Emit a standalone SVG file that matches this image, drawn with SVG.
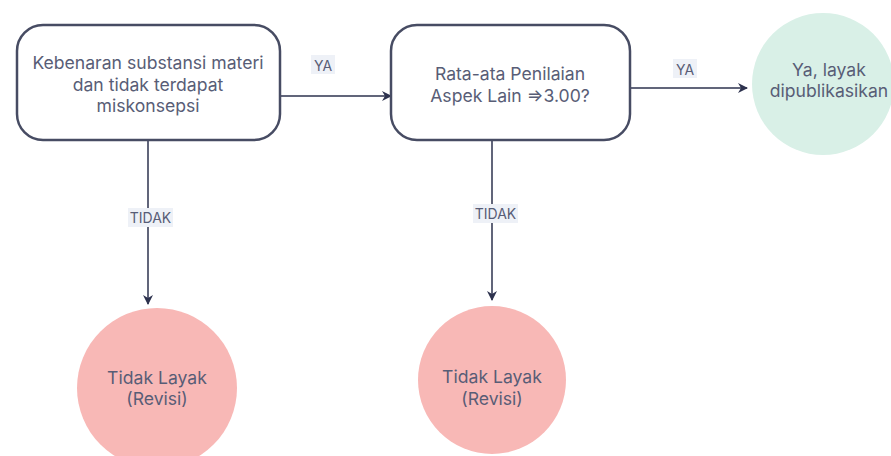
<svg xmlns="http://www.w3.org/2000/svg" width="891" height="456" viewBox="0 0 891 456">
  <defs>
    <style>
      .box { fill: #ffffff; stroke: #474c63; stroke-width: 2.5; }
      .txt { font-family: Inter, "Noto Sans", sans-serif; font-size: 17.6px; fill: #585d76; text-anchor: middle; dominant-baseline: central; }
      .lbl { font-family: Inter, "Noto Sans", sans-serif; font-size: 14px; fill: #585d76; text-anchor: middle; dominant-baseline: central; }
      .lblbg { fill: #eef1f7; }
      .edge { stroke: #2d324e; stroke-width: 1.5; fill: none; }
      .no { fill: #f8b8b6; }
      .yes { fill: #d9f0e7; }
    </style>
    <marker id="arrow" viewBox="0 0 10 10" refX="9" refY="5" markerWidth="10" markerHeight="10" markerUnits="userSpaceOnUse" orient="auto">
      <path d="M0,0 L10,5 L0,10 L3,5 Z" fill="#2d324e"/>
    </marker>
  </defs>

  <g id="connectors">
    <line class="edge" x1="281" y1="96" x2="391" y2="96" marker-end="url(#arrow)"/>
    <line class="edge" x1="631" y1="88" x2="747" y2="88" marker-end="url(#arrow)"/>
    <line class="edge" x1="148" y1="141" x2="148" y2="304" marker-end="url(#arrow)"/>
    <line class="edge" x1="492" y1="141" x2="492" y2="300" marker-end="url(#arrow)"/>
    <rect class="lblbg" x="311" y="55" width="24" height="19"/>
    <text class="lbl" x="323" y="65">YA</text>
    <rect class="lblbg" x="673" y="59" width="24" height="19"/>
    <text class="lbl" x="685" y="69">YA</text>
    <rect class="lblbg" x="128" y="208" width="45" height="19"/>
    <text class="lbl" x="150.5" y="217">TIDAK</text>
    <rect class="lblbg" x="473" y="204" width="45" height="19"/>
    <text class="lbl" x="495.5" y="213">TIDAK</text>
  </g>

  <g id="check-substance">
    <rect class="box" x="17" y="25" width="263" height="115" rx="26"/>
    <text class="txt" x="148" y="62">Kebenaran substansi materi</text>
    <text class="txt" x="148" y="84">dan tidak terdapat</text>
    <text class="txt" x="148" y="105">miskonsepsi</text>
  </g>

  <g id="check-average">
    <rect class="box" x="391" y="25" width="239" height="115" rx="26"/>
    <text class="txt" x="510" y="73">Rata-ata Penilaian</text>
    <text class="txt" x="510" y="95">Aspek Lain ⇒3.00?</text>
  </g>

  <g id="publish">
    <circle class="yes" cx="823" cy="84" r="71"/>
    <text class="txt" x="829" y="69">Ya, layak</text>
    <text class="txt" x="829" y="90">dipublikasikan</text>
  </g>

  <g id="revise-1">
    <circle class="no" cx="157" cy="388" r="80"/>
    <text class="txt" x="157" y="377">Tidak Layak</text>
    <text class="txt" x="157" y="398">(Revisi)</text>
  </g>

  <g id="revise-2">
    <circle class="no" cx="492" cy="380" r="74"/>
    <text class="txt" x="492" y="376">Tidak Layak</text>
    <text class="txt" x="492" y="398">(Revisi)</text>
  </g>
</svg>
